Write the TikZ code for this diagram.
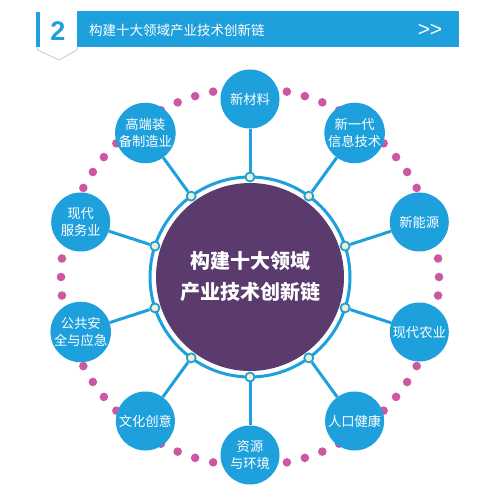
\documentclass[tikz,border=0pt]{standalone}
\usepackage{fontspec}
\usetikzlibrary{calc}
\newfontfamily\cjk{Noto Sans CJK SC}
\newfontfamily\latin{Liberation Sans}
\definecolor{mblue}{RGB}{30,160,220}
\definecolor{mpurple}{RGB}{91,58,110}
\definecolor{mpink}{RGB}{205,88,162}
\definecolor{mcream}{RGB}{245,240,200}
\definecolor{mgray}{RGB}{200,200,200}
\begin{document}
\begin{tikzpicture}[x=1pt,y=1pt,
 sat/.style={circle, fill=mblue, minimum size=59pt, inner sep=0pt, text=white, font=\cjk\fontsize{13.3}{16.8}\selectfont, align=center},
 rdot/.style={circle, draw=mblue, line width=1.8pt, fill=mcream, minimum size=9pt, inner sep=0pt},
 conn/.style={mblue, line width=3pt},
 pdot/.style={circle, fill=mpink, minimum size=8.6pt, inner sep=0pt}]
\useasboundingbox (0,0) rectangle (500,491);
\fill[white] (0,0) rectangle (500,491);
\coordinate (c) at (250,214);
% header
\node[fill=mblue, minimum width=382pt, minimum height=36pt, inner sep=0pt, anchor=south west] (bar) at (77,444) {};
\node[anchor=west, text=white, font=\cjk\fontsize{13.5}{16}\selectfont, inner sep=0pt] (htitle) at (89,461) {构建十大领域产业技术创新链};
\node[text=white, font=\latin\fontsize{21}{21}\selectfont, inner sep=0pt, anchor=base] (arr) at (430,454) {>\kern-0.5pt>};
\draw[mgray, line width=0.8pt, fill=white] (37.5,444) -- (37.5,441) -- (59,431) -- (77,441) -- (77,444);
\fill[mblue] (36,444) rectangle (40,479);
\node[text=mblue, font=\latin\bfseries\fontsize{27}{27}\selectfont, inner sep=0pt] (num) at (58,460) {2};
% pink dotted ring
\foreach \k in {0,...,63} { \node[pdot] (p\k) at ($(c)+(90+\k*5.625:189)$) {}; }
% ring and core
\node[circle, draw=mblue, line width=3pt, minimum size=200pt, inner sep=0pt] (ring) at (c) {};
\node[circle, fill=mpurple, minimum size=188pt, inner sep=0pt, text=white, align=center, font=\cjk\bfseries\fontsize{20}{31}\selectfont] (core) at (c) {构建十大领域\\产业技术创新链};
% satellites
\node[rdot] (r1) at ($(c)+(90:100)$) {};
\node[sat] (s1) at ($(c)+(90:178)$) {新材料};
\node[rdot] (r2) at ($(c)+(54:100)$) {};
\node[sat] (s2) at ($(c)+(54:178)$) {新一代\\信息技术};
\node[rdot] (r3) at ($(c)+(18:100)$) {};
\node[sat] (s3) at ($(c)+(18:178)$) {新能源};
\node[rdot] (r4) at ($(c)+(-18:100)$) {};
\node[sat] (s4) at ($(c)+(-18:178)$) {现代农业};
\node[rdot] (r5) at ($(c)+(-54:100)$) {};
\node[sat] (s5) at ($(c)+(-54:178)$) {人口健康};
\node[rdot] (r6) at ($(c)+(-90:100)$) {};
\node[sat] (s6) at ($(c)+(-90:178)$) {资源\\与环境};
\node[rdot] (r7) at ($(c)+(-126:100)$) {};
\node[sat] (s7) at ($(c)+(-126:178)$) {文化创意};
\node[rdot] (r8) at ($(c)+(-162:100)$) {};
\node[sat] (s8) at ($(c)+(-162:178)$) {公共安\\全与应急};
\node[rdot] (r9) at ($(c)+(162:100)$) {};
\node[sat] (s9) at ($(c)+(162:178)$) {现代\\服务业};
\node[rdot] (r10) at ($(c)+(126:100)$) {};
\node[sat] (s10) at ($(c)+(126:178)$) {高端装\\备制造业};
\foreach \i in {1,...,10} { \draw[conn] (r\i) -- (s\i); }
\end{tikzpicture}
\end{document}
